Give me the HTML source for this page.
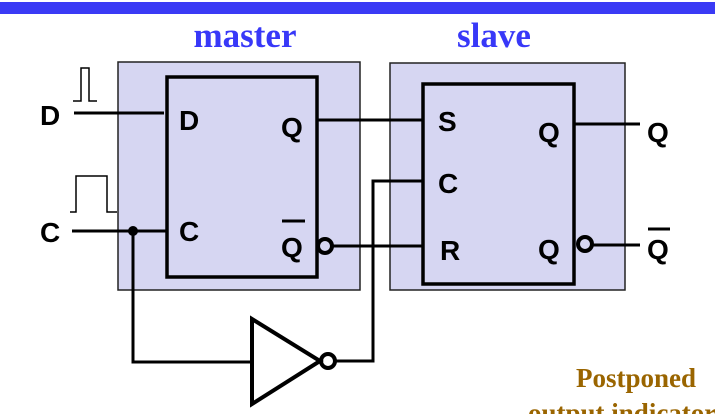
<!DOCTYPE html>
<html><head><meta charset="utf-8"><style>
body{margin:0;background:#fff;width:715px;height:414px;overflow:hidden}
</style></head><body>
<svg width="715" height="414" viewBox="0 0 715 414" xmlns="http://www.w3.org/2000/svg">
<rect x="0" y="2" width="715" height="12" fill="#3a3af5"/>
<g font-family="Liberation Serif,serif" font-weight="bold" fill="#3838f8" font-size="35">
<text x="245" y="47" text-anchor="middle">master</text>
<text x="494" y="47" text-anchor="middle">slave</text>
</g>
<rect x="118" y="62" width="242" height="228" fill="#d6d6f2" stroke="#222" stroke-width="1.5"/>
<rect x="390" y="63" width="235" height="227" fill="#d6d6f2" stroke="#222" stroke-width="1.5"/>
<g fill="none" stroke="#000" stroke-width="3.5">
<rect x="167" y="77" width="150" height="200"/>
<rect x="423" y="84" width="151" height="200"/>
</g>
<g fill="none" stroke="#000" stroke-width="3">
<line x1="74" y1="113" x2="164" y2="113"/>
<line x1="72" y1="231" x2="166" y2="231"/>
<line x1="317" y1="120" x2="423" y2="120"/>
<line x1="333" y1="246" x2="423" y2="246"/>
<polyline points="423,181 373,181 373,361 336,361"/>
<polyline points="133,231 133,362 252,362"/>
<polygon points="252,319 252,404 320,361" stroke-width="4"/>
<circle cx="328" cy="361" r="7" stroke-width="4"/>
<circle cx="325" cy="246" r="7" stroke-width="4"/>
<line x1="574" y1="124" x2="640" y2="124"/>
<circle cx="585" cy="244" r="7" stroke-width="4"/>
<line x1="592" y1="245" x2="640" y2="245"/>
</g>
<circle cx="133" cy="231" r="5" fill="#000"/>
<g fill="none" stroke="#000" stroke-width="1.5">
<polyline points="73,101 81,101 81,68 89,68 89,101 97,101"/>
<polyline points="70,212 76,212 76,176 107,176 107,212 117,212"/>
</g>
<g font-family="Liberation Sans,sans-serif" font-weight="bold" font-size="28" fill="#000">
<text x="40" y="125">D</text>
<text x="40" y="242">C</text>
<text x="179" y="130">D</text>
<text x="179" y="241">C</text>
<text x="281" y="137">Q</text>
<text x="281" y="257">Q</text>
<text x="438" y="131">S</text>
<text x="438" y="193">C</text>
<text x="440" y="260">R</text>
<text x="538" y="142">Q</text>
<text x="538" y="259">Q</text>
<text x="647" y="142">Q</text>
<text x="647" y="259">Q</text>
</g>
<g stroke="#000" stroke-width="3">
<line x1="282" y1="221" x2="305" y2="221"/>
<line x1="648" y1="229" x2="670" y2="229"/>
</g>
<g font-family="Liberation Serif,serif" font-weight="bold" font-size="27" fill="#9a6500">
<text x="636" y="387" text-anchor="middle">Postponed</text>
<text x="528" y="422">output indicator</text>
</g>
</svg>
</body></html>
